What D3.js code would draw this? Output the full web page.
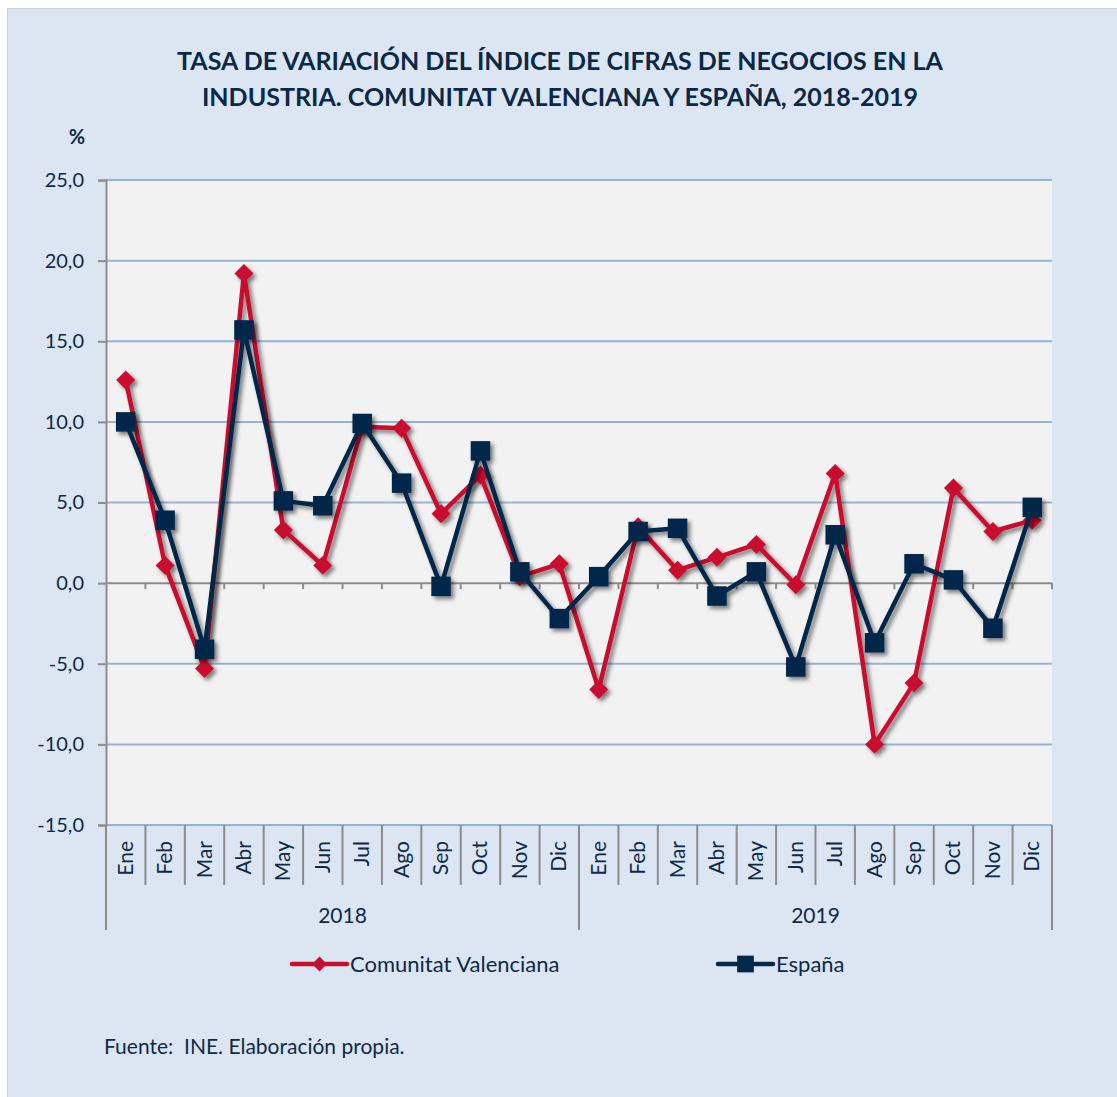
<!DOCTYPE html>
<html lang="es">
<head>
<meta charset="utf-8">
<title>Tasa de variación del índice de cifras de negocios</title>
<script src="https://d3js.org/d3.v7.min.js"></script>
<style>
  body { margin: 0; background: #fff; }
  svg text { font-family: Lato, "Open Sans", sans-serif; fill: #0e2a47; }
</style>
</head>
<body>
<svg id="chart" width="1117" height="1097"></svg>
<script>
const months = ["Ene", "Feb", "Mar", "Abr", "May", "Jun", "Jul", "Ago", "Sep", "Oct", "Nov", "Dic"];
const years = ["2018", "2019"];
const yTicks = [-15, -10, -5, 0, 5, 10, 15, 20, 25];
const cvValues = [12.6, 1.1, -5.3, 19.2, 3.3, 1.1, 9.7, 9.6, 4.3, 6.7, 0.4, 1.2,
                  -6.6, 3.5, 0.8, 1.6, 2.4, -0.1, 6.8, -10.0, -6.2, 5.9, 3.2, 3.9];
const esValues = [10.0, 3.9, -4.1, 15.7, 5.1, 4.8, 9.9, 6.2, -0.2, 8.2, 0.7, -2.2,
                  0.4, 3.2, 3.4, -0.8, 0.7, -5.2, 3.0, -3.7, 1.2, 0.2, -2.8, 4.7];
const seriesNames = ["Comunitat Valenciana", "España"];

const red = "#c8102e";
const navy = "#00284a";
const gridColor = "#95b3d7";
const axisGrey = "#8c8c8c";

const svg = d3.select("#chart");

// background box
svg.append("rect").attr("x", 7.5).attr("y", 8.5).attr("width", 1115).attr("height", 1095)
  .attr("fill", "#dce6f2").attr("stroke", "#d0d0d0");

// shadow filter
const defs = svg.append("defs");
const f = defs.append("filter").attr("id", "shadow")
  .attr("x", "-20%").attr("y", "-20%").attr("width", "140%").attr("height", "140%");
f.append("feDropShadow").attr("dx", 3).attr("dy", 3).attr("stdDeviation", 2)
  .attr("flood-color", "#000").attr("flood-opacity", 0.5);

// title
const title = svg.append("text").attr("text-anchor", "middle")
  .attr("font-weight", "bold").attr("font-size", 25).style("fill", "#0b2947");
title.append("tspan").attr("x", 560).attr("y", 70)
  .text("TASA DE VARIACIÓN DEL ÍNDICE DE CIFRAS DE NEGOCIOS EN LA");
title.append("tspan").attr("x", 560).attr("y", 106)
  .text("INDUSTRIA. COMUNITAT VALENCIANA Y ESPAÑA, 2018-2019");

svg.append("text").attr("x", 77).attr("y", 144).attr("text-anchor", "middle")
  .attr("font-weight", "bold").attr("font-size", 20).text("%");

// scales
const keys = [];
years.forEach(y => months.forEach(m => keys.push(y + "-" + m)));
const plotLeft = 106, plotRight = 1052, plotTop = 180, plotBottom = 825;
const x = d3.scaleBand().domain(keys).range([plotLeft, plotRight]);
const y = d3.scaleLinear().domain([-15, 25]).range([plotBottom, plotTop]);

// plot area
svg.append("rect").attr("x", plotLeft).attr("y", plotTop).attr("width", plotRight - plotLeft)
  .attr("height", plotBottom - plotTop).attr("fill", "#f2f2f2");

// gridlines
svg.append("g").selectAll("line").data(yTicks.filter(d => d !== 0)).enter().append("line")
  .attr("x1", plotLeft).attr("x2", plotRight)
  .attr("y1", d => y(d)).attr("y2", d => y(d))
  .attr("stroke", gridColor).attr("stroke-width", 2);

// y axis
const yAxis = svg.append("g").attr("transform", `translate(${plotLeft},0)`)
  .call(d3.axisLeft(y).tickValues(yTicks).tickSize(8).tickPadding(14)
    .tickFormat(d => d.toFixed(1).replace(".", ",")));
yAxis.select(".domain").attr("stroke", axisGrey).attr("stroke-width", 2);
yAxis.selectAll(".tick line").attr("stroke", axisGrey).attr("stroke-width", 2);
yAxis.selectAll(".tick text").attr("font-size", 20).attr("fill", "#0e2a47")
  .style("font-family", "Lato, sans-serif");

// zero line with small ticks
svg.append("line").attr("x1", plotLeft).attr("x2", plotRight)
  .attr("y1", y(0)).attr("y2", y(0)).attr("stroke", axisGrey).attr("stroke-width", 2);
svg.append("g").selectAll("line").data(keys.slice(1).concat(["end"])).enter().append("line")
  .attr("x1", d => d === "end" ? plotRight : x(d)).attr("x2", d => d === "end" ? plotRight : x(d))
  .attr("y1", y(0)).attr("y2", y(0) + 6)
  .attr("stroke", axisGrey).attr("stroke-width", 2);

// category separators
svg.append("g").selectAll("line").data(keys).enter().append("line")
  .attr("x1", d => x(d)).attr("x2", d => x(d))
  .attr("y1", plotBottom).attr("y2", (d, i) => i % 12 === 0 ? 930 : 885)
  .attr("stroke", axisGrey).attr("stroke-width", 2);
svg.append("line").attr("x1", plotRight).attr("x2", plotRight).attr("y1", plotBottom).attr("y2", 930)
  .attr("stroke", axisGrey).attr("stroke-width", 2);

// month labels
svg.append("g").selectAll("text").data(keys).enter().append("text")
  .attr("transform", d => `translate(${x(d) + x.bandwidth() / 2 + 7},841) rotate(-90)`)
  .attr("text-anchor", "end").attr("font-size", 21)
  .text(d => d.split("-")[1]);

// year labels
svg.append("g").selectAll("text").data(years).enter().append("text")
  .attr("x", d => (x(d + "-Ene") + x(d + "-Dic") + x.bandwidth()) / 2)
  .attr("y", 923).attr("text-anchor", "middle").attr("font-size", 21)
  .text(d => d);

// series
const line = d3.line().x((d, i) => x(keys[i]) + x.bandwidth() / 2).y(d => y(d));
const diamond = d3.symbol().type(d3.symbolSquare).size(180);
const square = d3.symbol().type(d3.symbolSquare).size(380);
const legendDiamond = d3.symbol().type(d3.symbolSquare).size(110);
const legendSquare = d3.symbol().type(d3.symbolSquare).size(280);

function drawSeries(values, color, marker, rotate) {
  const g = svg.append("g").attr("filter", "url(#shadow)");
  g.append("path").datum(values).attr("d", line).attr("fill", "none")
    .attr("stroke", color).attr("stroke-width", 4.5).attr("stroke-linejoin", "round");
  g.selectAll("path.m").data(values).enter().append("path").attr("class", "m")
    .attr("d", marker)
    .attr("transform", (d, i) => `translate(${x(keys[i]) + x.bandwidth() / 2},${y(d)}) rotate(${rotate})`)
    .attr("fill", color);
}
drawSeries(cvValues, red, diamond, 45);
drawSeries(esValues, navy, square, 0);

// legend
const legend = [
  { name: seriesNames[0], color: red, marker: legendDiamond, rotate: 45, x: 292 },
  { name: seriesNames[1], color: navy, marker: legendSquare, rotate: 0, x: 718 }
];
legend.forEach(l => {
  const g = svg.append("g").attr("transform", `translate(${l.x},964)`);
  g.append("line").attr("x1", 0).attr("x2", 55).attr("stroke", l.color)
    .attr("stroke-width", 4.5).attr("stroke-linecap", "round");
  g.append("path").attr("d", l.marker)
    .attr("transform", `translate(27.5,0) rotate(${l.rotate})`).attr("fill", l.color);
  g.append("text").attr("x", 58).attr("y", 8).attr("font-size", 22).text(l.name);
});

// source
svg.append("text").attr("x", 104).attr("y", 1054).attr("font-size", 21)
  .attr("xml:space", "preserve").text("Fuente:  INE. Elaboración propia.");
</script>
</body>
</html>
